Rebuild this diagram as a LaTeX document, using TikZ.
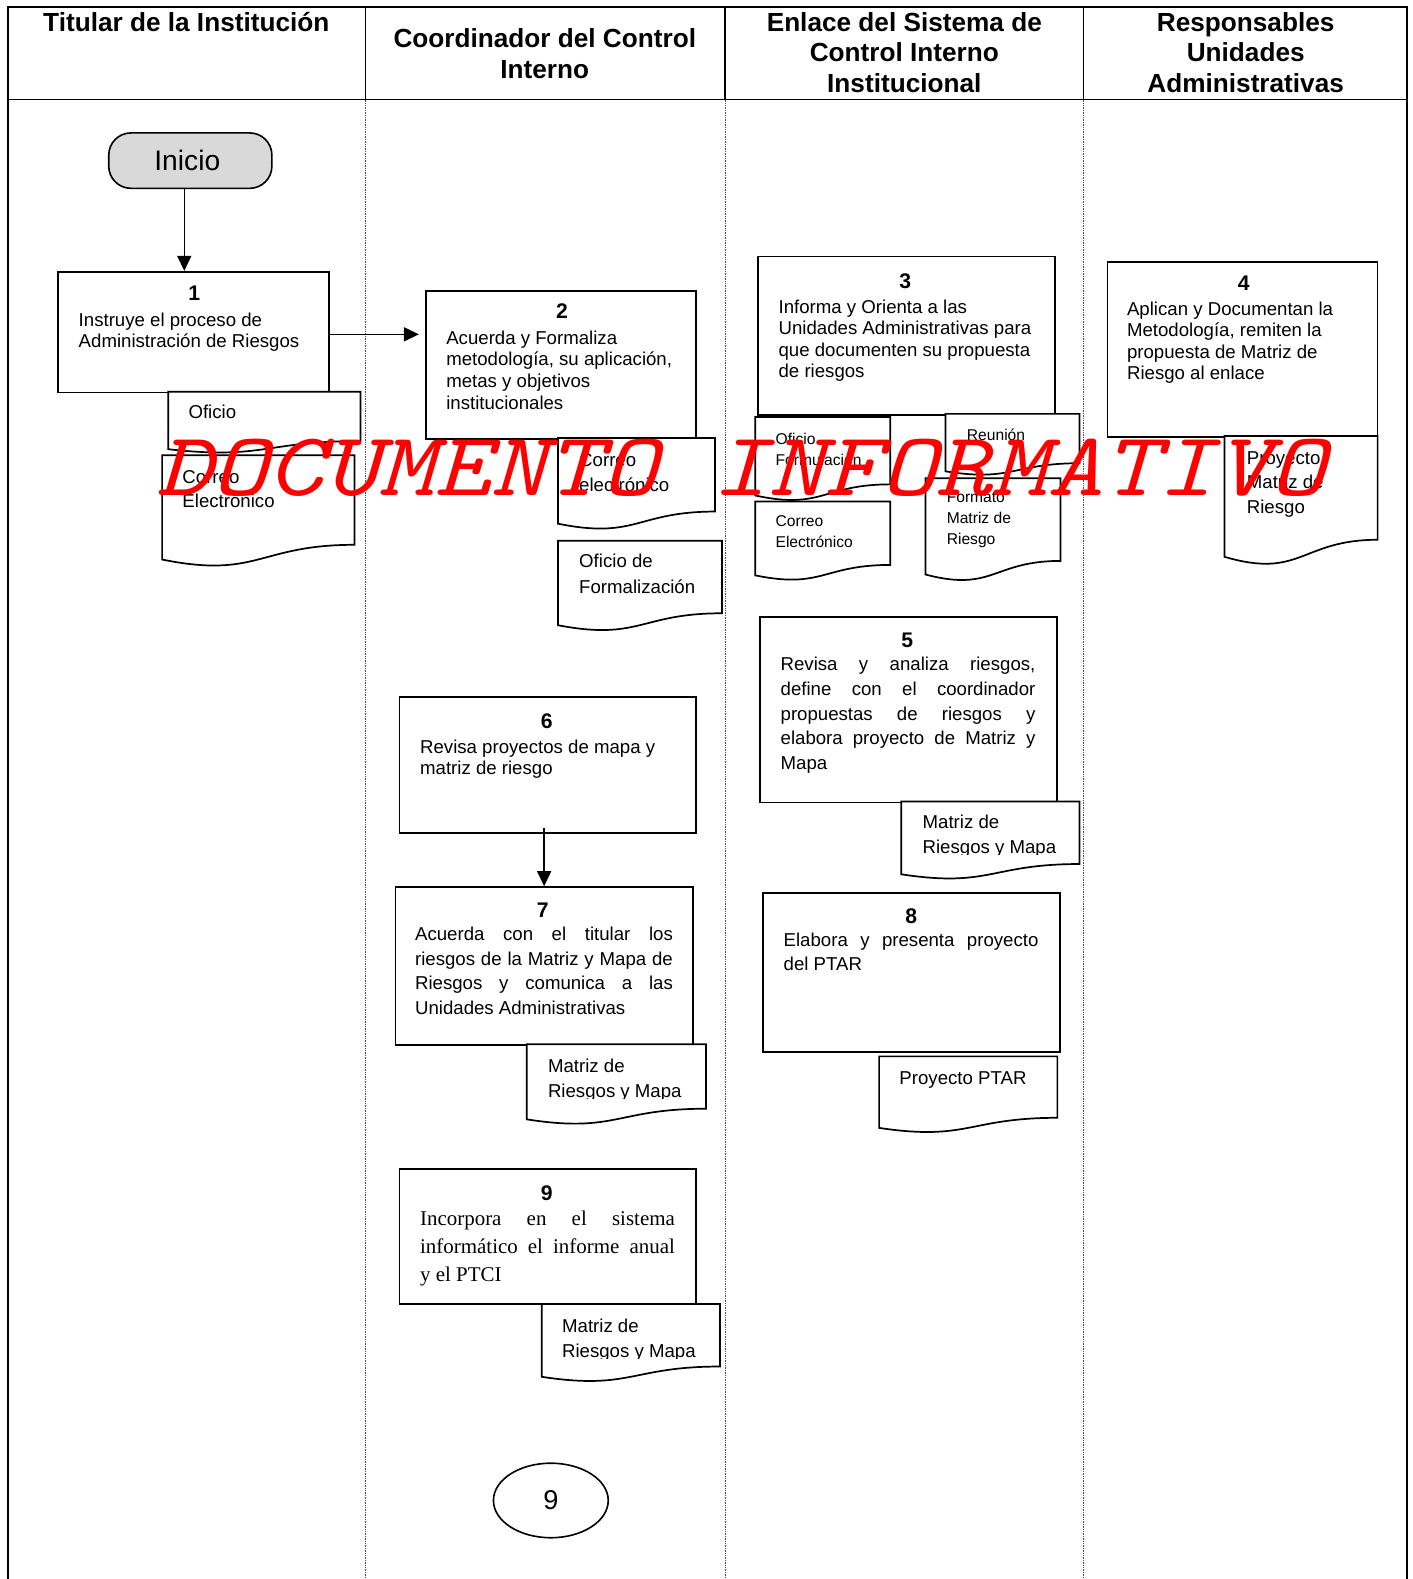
\documentclass[tikz,border=0pt]{standalone}
\usepackage{fontspec}
\usepackage{graphicx}
\setmainfont{Liberation Sans}
\newfontfamily\timesfont{Liberation Serif}
\usetikzlibrary{arrows.meta,shapes.geometric}

\newcommand\bodyfont{\fontsize{18.5}{21.4}\selectfont}
\newcommand\smallfont{\fontsize{15.5}{21}\selectfont}

\tikzset{
  frameline/.style={line width=1.6pt},
  lanesep/.style={densely dotted, line width=0.7pt, black!70},
  stepbox/.style={draw, line width=1.7pt, anchor=north west, inner sep=0pt, fill=white},
  docline/.style={draw, line width=1.7pt, fill=white},
  num/.style={anchor=base, inner sep=0pt, font=\bfseries\fontsize{21}{21}\selectfont},
  txt/.style={anchor=base west, inner sep=0pt, font=\bodyfont},
  stxt/.style={anchor=base west, inner sep=0pt, font=\smallfont},
  hdr/.style={anchor=base, inner sep=0pt},
  flow/.style={-{Triangle[length=15pt,width=14pt]}, line width=1.5pt},
}

% name, x1, y1, x2, y2
\newcommand\stepnode[5]{%
  \node[stepbox, minimum width={(#4-#2)*1pt}, minimum height={(#5-#3)*1pt}] (#1) at (#2,#3) {};}
% name, x1, y1, x2, yR (right bottom)
\newcommand\docshape[5]{%
  \pgfmathsetmacro\dcH{(#5-#3)/0.802}%
  \pgfmathsetmacro\dcL{#3+0.934*\dcH}%
  \pgfmathsetmacro\dcC{#3+1.108*\dcH}%
  \pgfmathsetmacro\dcM{(#2+#4)/2}%
  \draw[docline] (#2,#3) -- (#4,#3) -- (#4,#5) .. controls (\dcM,#5) and (\dcM,\dcC) .. (#2,\dcL) -- cycle;
  \coordinate (#1) at (\dcM,#3);}

\begin{document}
\begin{tikzpicture}[x=1pt,y=-1pt]
\useasboundingbox (0,0) rectangle (1403,1568);

% ---------- frame and lanes ----------
\draw[frameline] (8,1568) -- (8,7) -- (1397,7) -- (1397,1568);
\draw[frameline] (8,99) -- (1397,99);
\foreach \lx in {363,720,1076}{
  \draw[frameline] (\lx,7) -- (\lx,99);
  \draw[lanesep] (\lx,99) -- (\lx,1568);
}

\node[hdr] (h1) at (185,31) {\parbox[t]{350pt}{\centering\bfseries\fontsize{26}{30.5}\selectfont Titular de la Institución}};
\node[hdr] (h2) at (541,47) {\parbox[t]{350pt}{\centering\bfseries\fontsize{26}{30.5}\selectfont Coordinador del Control\\Interno}};
\node[hdr] (h3) at (898,31) {\parbox[t]{350pt}{\centering\bfseries\fontsize{26}{30.5}\selectfont Enlace del Sistema de\\Control Interno\\Institucional}};
\node[hdr] (h4) at (1237,31) {\parbox[t]{320pt}{\centering\bfseries\fontsize{26}{30.5}\selectfont Responsables\\Unidades\\Administrativas}};

% ---------- start ----------
\node[draw, line width=1.6pt, rounded corners=22pt, fill=black!15, minimum width=162pt,
      minimum height=55pt, inner sep=0pt, font=\fontsize{28}{28}\selectfont] (inicio) at (189,159.5) {\hspace*{-6pt}Inicio};

% ---------- lane 1 ----------
\stepnode{b1}{57}{269}{326}{389}
\node[num] (n1) at (193,298) {1};
\node[txt] (t1) at (78,324) {\parbox[t]{240pt}{\raggedright Instruye el proceso de\\Administración de Riesgos}};

\docshape{d1}{167}{389}{358}{438}
\node[txt] (td1) at (187,416) {Oficio};
\docshape{d2}{161}{452}{352}{541}
\node[txt] (td2) at (181,480) {\parbox[t]{160pt}{\fontsize{18.5}{24}\selectfont Correo\\Electrónico}};

% ---------- lane 2 ----------
\stepnode{b2}{422}{288}{690}{435}
\node[num] (n2) at (558,316) {2};
\node[txt] (t2) at (443,342) {\parbox[t]{240pt}{\raggedright Acuerda y Formaliza\\metodología, su aplicación,\\metas y objetivos\\institucionales}};

\docshape{d3}{554}{435}{710}{508}
\node[txt] (td3) at (575,463) {\parbox[t]{130pt}{\fontsize{18.5}{25}\selectfont Correo\\electrónico}};
\docshape{d4}{554}{537}{717}{609}
\node[txt] (td4) at (575,564) {\parbox[t]{140pt}{\fontsize{18.5}{25}\selectfont Oficio de\\Formalización}};

\stepnode{b6}{396}{691}{690}{826}
\node[num] (n6) at (543,723) {6};
\node[txt] (t6) at (417,748) {\parbox[t]{260pt}{\raggedright Revisa proyectos de mapa y\\matriz de riesgo}};

\stepnode{b7}{392}{880}{687}{1037}
\node[num] (n7) at (539,911) {7};
\node[txt] (t7) at (412,934) {\parbox[t]{256pt}{\fontsize{18.5}{24.4}\selectfont
  Acuerda\hfill con\hfill el\hfill titular\hfill los\\
  riesgos\hfill de\hfill la\hfill Matriz\hfill y\hfill Mapa\hfill de\\
  Riesgos\hfill y\hfill comunica\hfill a\hfill las\\
  Unidades Administrativas}};

\docshape{d9}{523}{1037}{701}{1101}
\begin{scope}
  \clip (523,1037) rectangle (701,1091);
  \node[txt] (td9) at (544,1065) {\parbox[t]{160pt}{\fontsize{18.5}{25}\selectfont Matriz de\\Riesgos y Mapa}};
\end{scope}

\stepnode{b9}{396}{1160}{690}{1294}
\node[num] (n9) at (543,1192) {9};
\node[txt] (t9) at (417,1217) {\parbox[t]{253pt}{\timesfont\fontsize{20.8}{27.8}\selectfont
  Incorpora\hfill en\hfill el\hfill sistema\\
  informático\hfill el\hfill informe\hfill anual\\
  y el PTCI}};

\docshape{d12}{538}{1295}{715}{1357}
\begin{scope}
  \clip (538,1295) rectangle (715,1349);
  \node[txt] (td12) at (558,1323) {\parbox[t]{160pt}{\fontsize{18.5}{25}\selectfont Matriz de\\Riesgos y Mapa}};
\end{scope}

\node[draw, ellipse, line width=1.6pt, minimum width=114pt, minimum height=74pt, inner sep=0pt,
      font=\fontsize{27}{27}\selectfont] (fin) at (547,1490) {9};

% ---------- lane 3 ----------
\stepnode{b3}{752}{254}{1047}{411}
\node[num] (n3) at (899,286) {3};
\node[txt] (t3) at (773,311) {\parbox[t]{270pt}{\raggedright Informa y Orienta a las\\Unidades Administrativas para\\que documenten su propuesta\\de riesgos}};

\docshape{d5}{750}{414}{884}{481}
\node[stxt] (td5) at (770,441) {\parbox[t]{120pt}{\smallfont Oficio\\Formulación}};
\docshape{d6}{939}{411}{1072}{460}
\node[stxt] (td6) at (960,437) {Reunión};
\docshape{d7}{750}{498}{884}{561}
\node[stxt] (td7) at (770,523) {\parbox[t]{120pt}{\smallfont Correo\\Electrónico}};
\docshape{d8}{919}{475}{1053}{557}
\node[stxt] (td8) at (940,499) {\parbox[t]{120pt}{\smallfont Formato\\Matriz de\\Riesgo}};

\stepnode{b5}{754}{612}{1049}{796}
\node[num] (n5) at (901,643) {5};
\node[txt] (t5) at (775,666) {\parbox[t]{253pt}{\fontsize{18.5}{24.5}\selectfont
  Revisa\hfill y\hfill analiza\hfill riesgos,\\
  define\hfill con\hfill el\hfill coordinador\\
  propuestas\hfill de\hfill riesgos\hfill y\\
  elabora\hfill proyecto\hfill de\hfill Matriz\hfill y\\
  Mapa}};

\docshape{d10}{895}{796}{1072}{858}
\begin{scope}
  \clip (895,796) rectangle (1072,849);
  \node[txt] (td10) at (916,823) {\parbox[t]{160pt}{\fontsize{18.5}{25}\selectfont Matriz de\\Riesgos y Mapa}};
\end{scope}

\stepnode{b8}{757}{886}{1052}{1044}
\node[num] (n8) at (905,917) {8};
\node[txt] (t8) at (778,940) {\parbox[t]{253pt}{\fontsize{18.5}{24}\selectfont
  Elabora\hfill y\hfill presenta\hfill proyecto\\
  del PTAR}};

\docshape{d11}{873}{1049}{1050}{1110}
\node[txt] (td11) at (893,1077) {Proyecto PTAR};

% ---------- lane 4 ----------
\stepnode{b4}{1099}{259}{1367}{433}
\node[num] (n4) at (1235,288) {4};
\node[txt] (t4) at (1119,313) {\parbox[t]{240pt}{\raggedright Aplican y Documentan la\\Metodología, remiten la\\propuesta de Matriz de\\Riesgo al enlace}};

\docshape{d13}{1216}{433}{1368}{536}
\node[txt] (td13) at (1238,461) {\parbox[t]{125pt}{\fontsize{18.5}{24.5}\selectfont Proyecto\\Matriz de\\Riesgo}};

% ---------- connectors ----------
\draw[flow] ([xshift=-6pt]inicio.south) -- ([xshift=-6pt]inicio.south |- b1.north);
\draw[flow, shorten >=6pt] (b1.east |- 0,332) -- (b2.west |- 0,332);
\draw[flow] ([yshift=5pt]b7.north |- b6.south) -- (b7.north);

% ---------- watermark ----------
\node[anchor=base west, inner sep=0pt, text=red, font=\ttfamily\itshape\fontsize{90}{90}\selectfont]
  (wm) at (155,492) {\scalebox{1.17}[1]{DOCUMENTO INFORMATIVO}};
\end{tikzpicture}
\end{document}
